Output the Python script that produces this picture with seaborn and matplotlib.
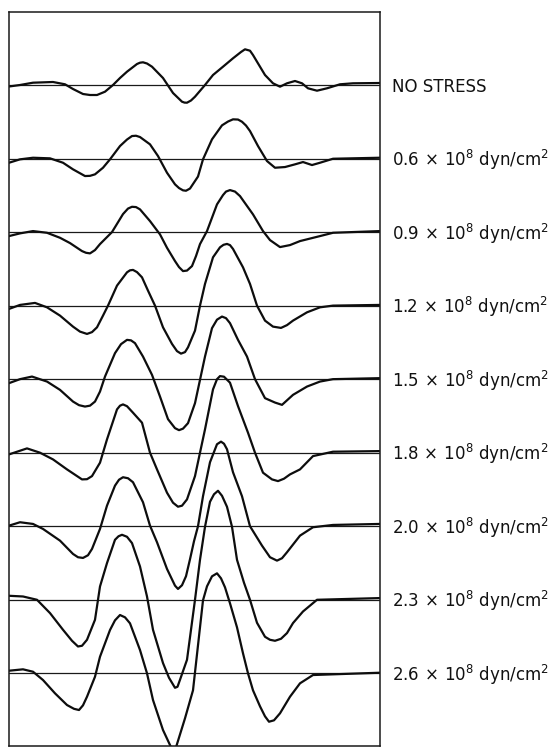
import numpy as np
import pandas as pd
import matplotlib
matplotlib.use("Agg")
import matplotlib.pyplot as plt
import seaborn as sns

# ---------------- data ----------------
# x: time position (arbitrary units), y: trace deflection (arbitrary units, + = up)
labels = ["NO STRESS",
          r"0.6$\,\times\,$10$^{8}$ dyn/cm$^{2}$",
          r"0.9$\,\times\,$10$^{8}$ dyn/cm$^{2}$",
          r"1.2$\,\times\,$10$^{8}$ dyn/cm$^{2}$",
          r"1.5$\,\times\,$10$^{8}$ dyn/cm$^{2}$",
          r"1.8$\,\times\,$10$^{8}$ dyn/cm$^{2}$",
          r"2.0$\,\times\,$10$^{8}$ dyn/cm$^{2}$",
          r"2.3$\,\times\,$10$^{8}$ dyn/cm$^{2}$",
          r"2.6$\,\times\,$10$^{8}$ dyn/cm$^{2}$"]

x0 = [9, 20, 33, 53, 65, 73, 83, 90, 97, 105, 113, 120, 127, 137, 140, 143, 147, 152, 163, 173,
      182, 184.5, 187, 191, 195, 205, 213, 223, 233, 241, 245, 250, 253, 257, 265, 273, 280, 287, 295, 302,
      308, 317, 327, 340, 353, 380]
y0 = [-1.5, 0, 2.3, 3, 0.7, -4, -9, -10, -10, -6.7, 0, 7, 13.3, 21, 22.3, 22.7, 21.5, 18.3, 7, -8,
      -16.7, -17.6, -17.7, -15.5, -11.7, 0, 10, 18.3, 26.7, 33, 35.7, 34.3, 30, 23.3, 10, 1.7, -1.7, 1.7, 4, 1.7,
      -3.3, -5.7, -3.3, 0.7, 1.7, 2]

x1 = [9, 20, 33, 50, 63, 73, 85, 90, 95, 103, 110, 120, 127, 132, 136, 140, 150, 158, 167, 175,
      179, 183, 186, 190, 198, 203, 212, 222, 228, 233, 238, 242, 246, 250, 258, 267, 275, 285, 295, 303,
      312, 320, 333, 380]
y1 = [-4.2, -0.8, 0.8, 0.2, -4.2, -10.8, -17.5, -17.3, -15.8, -9.2, -0.8, 12.5, 19, 22.5, 22.8, 21.5, 14.2, 2.5, -14.2, -25.8,
      -29.5, -31.8, -32.2, -30, -18, -0.8, 19.2, 33.2, 37, 39.2, 39, 36.8, 33, 27.5, 12.5, -2.5, -9.2, -8.5, -5.8, -3.5,
      -6.5, -4.2, -0.2, 0.8]

x2 = [9, 20, 33, 47, 60, 70, 82, 86, 90, 95, 100, 112, 123, 128, 132, 136, 140, 150, 160, 167,
      175, 179, 183, 187, 192, 196, 200, 207, 217, 223, 226, 230, 235, 240, 253, 263, 270, 280, 290, 300,
      320, 333, 380]
y2 = [-4, -1.3, 1, -0.7, -5.7, -11, -19, -20.7, -21.3, -18, -12, 0, 18, 23.5, 25.3, 25, 22.7, 11, -2.3, -15.7,
      -29, -35, -39, -38.5, -34, -24, -12, 1, 27.7, 37, 40.5, 42, 40.5, 36, 17.7, 1, -8, -15, -13, -9,
      -4, -0.7, 1]

x3 = [9, 20, 35, 47, 60, 73, 80, 87, 92, 97, 103, 108, 117, 127, 130, 133, 137, 142, 148, 155,
      163, 172, 177, 181, 185, 188, 195, 200, 205, 213, 220, 223.5, 227, 230, 233, 243, 250, 257, 265, 273,
      281, 287, 293, 307, 320, 333, 380]
y3 = [-3.3, 0.7, 2.7, -1.7, -10, -21, -26, -28.3, -26.5, -21.7, -10, 0, 20, 33.3, 35.3, 35.7, 33.5, 28.3, 15, 0,
      -21.7, -38.3, -45.5, -48, -46.5, -41.7, -25, 0, 21.7, 48.3, 58.3, 60.8, 61.7, 60.5, 56.7, 38.3, 21.7, 0, -15, -21,
      -22.3, -19.5, -15, -6.7, -1.7, 0, 0.7]

x4 = [9, 20, 32, 47, 60, 73, 79, 85, 90, 95, 100, 105, 115, 121, 127, 131, 135, 143, 152, 160,
      168, 175, 179, 183, 188, 195, 200, 205, 212, 217, 222, 226, 230, 238, 247, 255, 265, 275, 282, 293,
      307, 320, 333, 380]
y4 = [-4, 0, 2.6, -2.4, -10.7, -22.4, -26, -27.4, -26.5, -22.4, -12.4, 2.6, 26, 35, 39.3, 38.8, 36, 22.6, 4.3, -17.4,
      -40, -49, -51, -49.5, -44, -24, -0.7, 22.6, 51, 59.5, 62.6, 61, 56, 39.3, 22.6, 0, -19, -23.4, -25.7, -15.7,
      -7.4, -2.4, 0, 1]

x5 = [9, 27, 40, 53, 67, 82, 87, 92, 100, 107, 117, 120, 123, 127, 133, 142, 150, 157, 167, 173,
      178, 182, 187, 195, 200, 205, 213, 217, 220, 224, 230, 238, 248, 255, 263, 272, 278, 284, 290, 300,
      313, 333, 380]
y5 = [-1.7, 4.3, 0, -6.7, -16.7, -26.7, -26.5, -23.4, -10, 13.3, 43.3, 47, 48.3, 46.5, 40, 30, 0, -16.7, -40, -50,
      -54, -53, -46.7, -23.4, 0, 23.3, 63.3, 73.5, 76.6, 76, 70, 46.6, 20, 0, -20, -26.7, -28.4, -26, -21.7, -16.7,
      -3.4, 1, 1.6]

x6 = [9, 20, 33, 43, 60, 73, 78, 83, 88, 92, 100, 107, 115, 119, 123, 128, 133, 143, 150, 157,
      167, 175, 178, 182, 186, 190, 194, 198, 203, 210, 217, 221, 224, 227, 233, 242, 250, 262, 270, 277,
      282, 287, 300, 313, 333, 380]
y6 = [0.6, 4, 2.3, -2.7, -14.4, -27.7, -31, -31.7, -29, -22.7, -2.7, 20.6, 40.6, 46.5, 49, 48, 44, 24, 0.6, -16,
      -42.7, -59.4, -62.7, -59, -50, -33, -15, 0, 30, 64, 82, 84.6, 82.5, 77, 54, 30, 0, -19.4, -31, -34.4,
      -32, -26, -9.4, -1, 1.3, 2.3]

x7 = [9, 23, 37, 50, 63, 72, 78, 82, 87, 95, 100, 107, 115, 118.5, 122, 127, 132, 140, 147, 153,
      163, 169, 175, 177.5, 180, 187, 195, 200, 205, 210, 214, 218, 222, 227, 232, 237, 244, 250, 257, 265,
      270, 275, 281, 287, 293, 303, 317, 380]
y7 = [4, 3.3, 0, -13.3, -30, -41, -46.7, -46, -40, -20, 13.3, 36.7, 60, 63.5, 65, 63, 56.7, 33.3, 3.3, -30,
      -63.3, -78, -88, -87, -80, -60, 0, 40, 73, 98, 105.5, 109, 104, 93, 73, 40, 17, 0, -23, -37,
      -40, -41, -39, -33.3, -23.3, -11.7, 0, 1.7]

x8 = [9, 23, 33, 43, 55, 67, 74, 79, 83, 87, 95, 100, 110, 115, 120, 125, 130, 140, 147, 153,
      163, 172, 176, 185, 193, 197, 200, 203, 207, 212, 217, 221, 225, 230, 237, 243, 248, 253, 260, 265,
      269, 274, 280, 290, 300, 313, 380]
y8 = [2.6, 4, 1.6, -6.7, -20, -31.7, -35.5, -36.7, -32, -23.4, -3.4, 16.6, 43.3, 53, 58.3, 56, 50, 23.3, 0, -26.7,
      -56.7, -76, -74, -45, -17, 19, 46, 73, 87, 97, 100, 95, 86, 70, 46, 20, 0, -17, -33, -43,
      -48.4, -47, -40, -23.4, -10, -1.7, 0.6]

xs = [x0, x1, x2, x3, x4, x5, x6, x7, x8]
ys = [y0, y1, y2, y3, y4, y5, y6, y7, y8]

# ---------------- layout ----------------
W, H, DPI = 559, 747, 100
TOP0, STEP = 85.0, 73.54          # first trace baseline and spacing (pixel units)
offsets = [-(TOP0 + STEP * i) for i in range(len(xs))]

frames = []
for i, (xx, yy) in enumerate(zip(xs, ys)):
    frames.append(pd.DataFrame({"t": xx, "y": np.array(yy) + offsets[i], "trace": i}))
df = pd.concat(frames, ignore_index=True)

sns.set_style("white")
plt.rcParams["font.family"] = ["DejaVu Sans"]
plt.rcParams["mathtext.fontset"] = "dejavusans"
plt.rcParams["lines.solid_joinstyle"] = "round"
plt.rcParams["lines.solid_capstyle"] = "round"

fig = plt.figure(figsize=(W / DPI, H / DPI), dpi=DPI)
ax = fig.add_axes([9 / W, 1 / H, 371 / W, 734 / H])

for off in offsets:
    ax.axhline(off, color="#1a1a1a", lw=0.9, zorder=1)

sns.lineplot(data=df, x="t", y="y", units="trace", estimator=None, sort=False,
             color="#0d0d0d", linewidth=1.6, legend=False, ax=ax, zorder=2)

ax.set_xlim(9, 380)
ax.set_ylim(-746, -12)
ax.set_xticks([])
ax.set_yticks([])
ax.set_xlabel("")
ax.set_ylabel("")
for s in ax.spines.values():
    s.set_visible(True)
    s.set_color("#1a1a1a")
    s.set_linewidth(1.1)

for lab, off in zip(labels, offsets):
    ax.text(392, off - 1.5, lab, ha="left", va="center", fontsize=12,
            color="#111111", clip_on=False)

fig.savefig("out.png", dpi=DPI, facecolor="white")
